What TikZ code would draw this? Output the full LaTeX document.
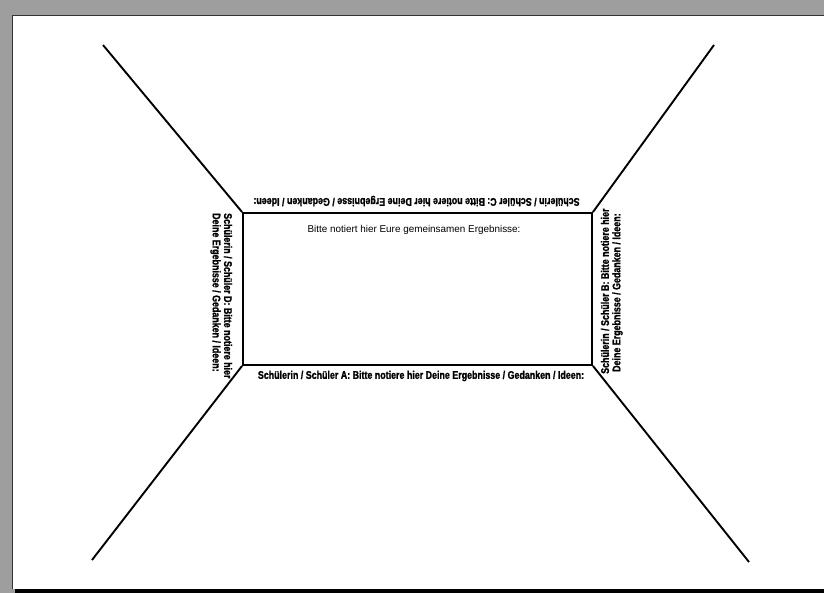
\documentclass[tikz,border=0pt]{standalone}
\usepackage{fontspec}
\setmainfont{Liberation Sans}
\newfontfamily\narrowfont[FakeStretch=0.8, FakeBold=1.2]{Liberation Sans}
\definecolor{bggray}{HTML}{9E9E9E}
\begin{document}
\begin{tikzpicture}[x=1pt,y=-1pt,
  lab/.style={font=\narrowfont\fontsize{11.1}{12}\selectfont\bfseries, inner sep=0pt},
  plain/.style={font=\fontsize{9.9}{12}\selectfont, inner sep=0pt},
  ray/.style={line width=1.9pt},
  board/.style={draw, line width=1.9pt, minimum width=349pt, minimum height=152pt, inner sep=0pt}]
\useasboundingbox (0,0) rectangle (824,593);
% page background
\fill[bggray] (0,0) rectangle (824,593);
\fill[black] (15,589) rectangle (824,593);
\fill[white] (12,16) rectangle (824,589);
\draw[line width=1pt, black!80] (12,589) -- (12,15.5) -- (824,15.5);
% central board
\node[board] (board) at (417.5,289) {};
\coordinate (tl) at (103,45);
\coordinate (tr) at (714,45);
\coordinate (bl) at (92,560);
\coordinate (br) at (749,562);
\draw[ray] (board.north west) -- (tl);
\draw[ray] (board.north east) -- (tr);
\draw[ray] (board.south west) -- (bl);
\draw[ray] (board.south east) -- (br);
% texts
\node[plain] (common) at (414,230) {Bitte notiert hier Eure gemeinsamen Ergebnisse:};
\node[lab, rotate=180] (c) at (416.5,201) {Schülerin / Schüler C: Bitte notiere hier Deine Ergebnisse / Gedanken / Ideen:};
\node[lab] (a) at (421,376) {Schülerin / Schüler A: Bitte notiere hier Deine Ergebnisse / Gedanken / Ideen:};
\node[lab, rotate=-90, anchor=west] (d1) at (228,213) {Schülerin / Schüler D: Bitte notiere hier};
\node[lab, rotate=-90, anchor=west] (d2) at (215.5,213) {Deine Ergebnisse / Gedanken / Ideen:};
\node[lab, rotate=90, anchor=west] (b1) at (605,374) {Schülerin / Schüler B: Bitte notiere hier};
\node[lab, rotate=90, anchor=west] (b2) at (617.5,372) {Deine Ergebnisse / Gedanken / Ideen:};
\end{tikzpicture}
\end{document}
